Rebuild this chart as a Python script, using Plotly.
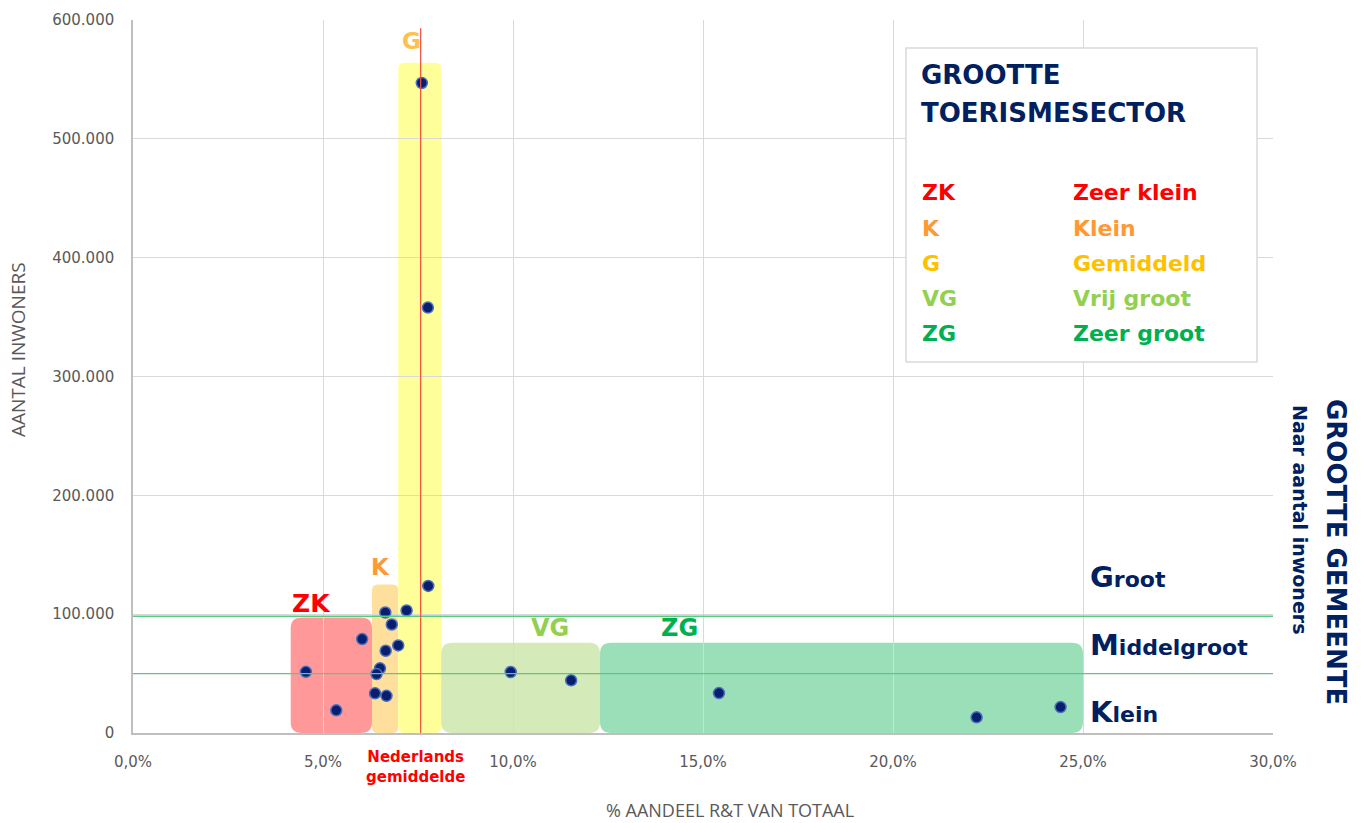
import plotly.graph_objects as go

# ---------------- data ----------------
pct_share = [7.60, 7.76, 7.77, 7.20, 6.64, 6.81, 6.98, 6.03, 6.65, 6.50, 6.41,
             4.55, 5.35, 6.37, 6.67, 9.94, 11.53, 15.42, 22.20, 24.41]
inhabitants = [547000, 358000, 123800, 103100, 101400, 91300, 73700, 79000, 69200, 54400, 49600,
               51500, 19100, 33400, 31300, 51300, 44300, 33600, 13200, 21800]

nl_average = 7.57
size_limits = [50000, 98300]

box_codes = ["ZK", "K", "G", "VG", "ZG"]
box_x0 = [4.15, 6.29, 6.98, 8.11, 12.29]
box_x1 = [6.29, 6.98, 8.11, 12.29, 25.0]
box_top = [97200, 125000, 564000, 76000, 76000]
box_fill = ["#FF9999", "#FFDF9C", "#FFFF99", "#D5EAB9", "#9BDFB9"]
label_color = ["#FF0000", "#FF9933", "#FFC000", "#92D050", "#00B050"]
box_names = ["Zeer klein", "Klein", "Gemiddeld", "Vrij groot", "Zeer groot"]

x_ticks = [0, 5, 10, 15, 20, 25, 30]
x_ticktext = ["0,0%", "5,0%", "10,0%", "15,0%", "20,0%", "25,0%", "30,0%"]
y_ticks = [0, 100000, 200000, 300000, 400000, 500000, 600000]
y_ticktext = ["0", "100.000", "200.000", "300.000", "400.000", "500.000", "600.000"]

# ---------------- layout geometry ----------------
W, H = 1366, 823
ML, MR, MT, MB = 133, 93, 20, 90
PW, PH = W - ML - MR, H - MT - MB
XMAX, YMAX = 30, 600000

def px(p):
    return (p - ML) / PW

def py(p):
    return (H - MB - p) / PH

NAVY = "#002060"
GREY = "#595959"
TF = "'DejaVu Sans', sans-serif"
TICKF = "'DejaVu Sans', sans-serif"

def rounded_path(x0, x1, y0, y1, r):
    rx = r * XMAX / PW
    ry = r * YMAX / PH
    rx = min(rx, (x1 - x0) / 2)
    return (f"M {x0+rx},{y0} L {x1-rx},{y0} Q {x1},{y0} {x1},{y0+ry} "
            f"L {x1},{y1-ry} Q {x1},{y1} {x1-rx},{y1} L {x0+rx},{y1} "
            f"Q {x0},{y1} {x0},{y1-ry} L {x0},{y0+ry} Q {x0},{y0} {x0+rx},{y0} Z")

def bold_font(size, color):
    return dict(family=TF, size=size, color=color, weight="bold")

fig = go.Figure()

fig.add_trace(go.Scatter(
    x=pct_share, y=inhabitants, mode="markers",
    marker=dict(size=11, color="#0A1E6E", line=dict(color="#4A6FC0", width=1.5)),
    showlegend=False, hoverinfo="x+y"))

shapes = []
for i in range(len(box_codes)):
    r = 6 if (box_x1[i] - box_x0[i]) < 1.5 else 11
    shapes.append(dict(type="path", xref="x", yref="y", layer="below",
                       path=rounded_path(box_x0[i], box_x1[i], 0, box_top[i], r),
                       fillcolor=box_fill[i], line=dict(width=0)))

for lim in size_limits:
    shapes.append(dict(type="line", xref="x", yref="y", x0=0, x1=XMAX, y0=lim, y1=lim,
                       line=dict(color="#55CC80", width=1.4), layer="above"))
shapes.append(dict(type="line", xref="x", yref="y", x0=nl_average, x1=nl_average,
                   y0=0, y1=593000, line=dict(color="#F0503C", width=1.2), layer="above"))
shapes.append(dict(type="rect", xref="paper", yref="paper",
                   x0=px(906), x1=px(1257), y0=py(362), y1=py(48),
                   fillcolor="white", line=dict(color="#D9D9D9", width=1.5), layer="above"))

ann = []

label_pos = [(311, 603, 25), (380, 567, 23), (411, 41, 23), (550, 628, 24), (679, 628, 24)]
for code, col, (lx, ly, fs) in zip(box_codes, label_color, label_pos):
    c = "#FFC04D" if code == "G" else col
    ann.append(dict(xref="paper", yref="paper", x=px(lx), y=py(ly), text=code,
                    showarrow=False, font=bold_font(fs, c),
                    xanchor="center", yanchor="middle"))

ann.append(dict(xref="paper", yref="paper", x=px(415), y=py(767),
                text="Nederlands<br>gemiddelde", showarrow=False,
                font=bold_font(15, "#FF0000"),
                xanchor="center", yanchor="middle", align="center"))

ann.append(dict(xref="paper", yref="paper", x=px(919), y=py(75), text="GROOTTE",
                showarrow=False, font=bold_font(26, NAVY), xanchor="left", yanchor="middle"))
ann.append(dict(xref="paper", yref="paper", x=px(919), y=py(113), text="TOERISMESECTOR",
                showarrow=False, font=bold_font(26, NAVY), xanchor="left", yanchor="middle"))
row_y = [192, 228, 263, 298, 333]
for code, name, col, ry in zip(box_codes, box_names, label_color, row_y):
    ann.append(dict(xref="paper", yref="paper", x=px(920), y=py(ry), text=code,
                    showarrow=False, font=bold_font(22, col),
                    xanchor="left", yanchor="middle"))
    ann.append(dict(xref="paper", yref="paper", x=px(1071), y=py(ry), text=name,
                    showarrow=False, font=bold_font(22, col),
                    xanchor="left", yanchor="middle"))

for word, ly in [("Groot", 577), ("Middelgroot", 645), ("Klein", 712)]:
    ann.append(dict(xref="paper", yref="paper", x=px(1088), y=py(ly),
                    text=f"<span style='font-size:29px'>{word[0]}</span>{word[1:]}",
                    showarrow=False, font=bold_font(22, NAVY),
                    xanchor="left", yanchor="middle"))

ann.append(dict(xref="paper", yref="paper", x=px(1336), y=py(552),
                text="GROOTTE GEMEENTE", textangle=90, showarrow=False,
                font=bold_font(26, NAVY), xanchor="center", yanchor="middle"))
ann.append(dict(xref="paper", yref="paper", x=px(1300), y=py(519),
                text="Naar aantal inwoners", textangle=90, showarrow=False,
                font=bold_font(19, NAVY), xanchor="center", yanchor="middle"))

ann.append(dict(xref="paper", yref="paper", x=px(730), y=py(810),
                text="% AANDEEL R&T VAN TOTAAL", showarrow=False,
                font=dict(family="'Open Sans', sans-serif", size=18, color=GREY),
                xanchor="center", yanchor="middle"))
ann.append(dict(xref="paper", yref="paper", x=px(18), y=py(350),
                text="AANTAL INWONERS", textangle=-90, showarrow=False,
                font=dict(family="'Open Sans', sans-serif", size=19, color=GREY),
                xanchor="center", yanchor="middle"))

fig.update_layout(
    width=W, height=H,
    margin=dict(l=ML, r=MR, t=MT, b=MB, autoexpand=False),
    paper_bgcolor="white", plot_bgcolor="white",
    shapes=shapes, annotations=ann, showlegend=False,
    xaxis=dict(range=[0, XMAX], tickvals=x_ticks, ticktext=x_ticktext,
               showgrid=True, gridcolor="#D9D9D9", gridwidth=1,
               showline=True, linecolor="#BFBFBF", linewidth=1.5,
               zeroline=False, ticks="", ticklabelstandoff=14,
               tickfont=dict(family=TICKF, size=15, color=GREY)),
    yaxis=dict(range=[0, YMAX], tickvals=y_ticks, ticktext=y_ticktext,
               showgrid=True, gridcolor="#D9D9D9", gridwidth=1,
               showline=True, linecolor="#BFBFBF", linewidth=1.5,
               zeroline=False, ticks="", ticklabelstandoff=14,
               tickfont=dict(family=TICKF, size=15, color=GREY)),
)

fig.write_html("out.html", config={"displayModeBar": False},
               post_script="document.body.style.margin='0px';")
